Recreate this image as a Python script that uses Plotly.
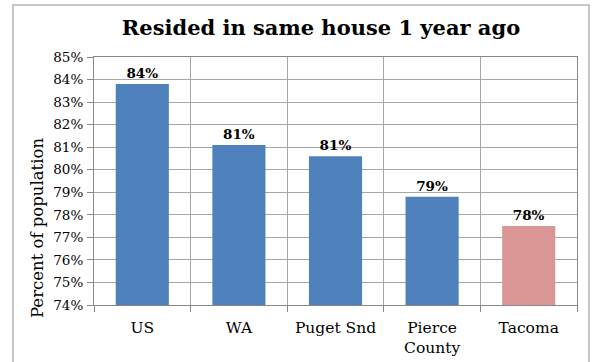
import plotly.graph_objects as go

categories = ["US", "WA", "Puget Snd", "Pierce<br>County", "Tacoma"]
values = [83.8, 81.1, 80.6, 78.8, 77.5]
labels = ["84%", "81%", "81%", "79%", "78%"]
colors = ["#4F81BD", "#4F81BD", "#4F81BD", "#4F81BD", "#D99694"]
y_ticks = list(range(74, 86))

FONT = "DejaVu Serif"
W, H = 592, 362
L, R, T, B = 94, 15, 57, 57
pw, ph = W - L - R, H - T - B

def px_x(px):
    return (px - L) / pw

def px_y(py):
    return (H - B - py) / ph

fig = go.Figure(go.Bar(
    x=categories, y=values, marker_color=colors, marker_line_width=0,
    text=labels, textposition="outside", cliponaxis=False,
    textfont=dict(family=FONT, size=13.5, color="#000000", weight="bold"),
))

fig.update_layout(
    width=W, height=H, margin=dict(l=L, r=R, t=T, b=B, autoexpand=False),
    paper_bgcolor="white", plot_bgcolor="white",
    showlegend=False, bargap=0.45,
    title=dict(text="<b>Resided in same house 1 year ago</b>",
               font=dict(family=FONT, size=21, color="#000000"),
               x=px_x(321), xref="paper", xanchor="center",
               y=1 - 28 / H, yref="container", yanchor="middle"),
    shapes=[dict(type="rect", xref="paper", yref="paper",
                 x0=px_x(13), x1=px_x(589), y0=px_y(364), y1=px_y(5),
                 line=dict(color="#b4b4b4", width=1.5), layer="below")],
    annotations=[dict(text="Percent of population", textangle=-90,
                      xref="paper", yref="paper", x=px_x(37), y=px_y(228),
                      xanchor="center", yanchor="middle", showarrow=False,
                      font=dict(family=FONT, size=16.5, color="#000000"))],
)

fig.update_xaxes(
    type="category", tickson="boundaries", ticks="outside", ticklen=6,
    tickcolor="#888888", showgrid=True, gridcolor="#a6a6a6", gridwidth=1,
    showline=True, linecolor="#888888", mirror=True, automargin=False,
    tickfont=dict(family=FONT, size=15.5, color="#000000"),
    ticklabelstandoff=8,
)
fig.update_yaxes(
    range=[74, 85], tickvals=y_ticks, ticktext=[f"{v}%" for v in y_ticks],
    ticks="outside", ticklen=6, tickcolor="#888888",
    showgrid=True, gridcolor="#a6a6a6", gridwidth=1,
    showline=True, linecolor="#888888", mirror=True, automargin=False,
    tickfont=dict(family=FONT, size=13.5, color="#000000"),
    ticklabelstandoff=1,
)

fig.write_html("out.html")
